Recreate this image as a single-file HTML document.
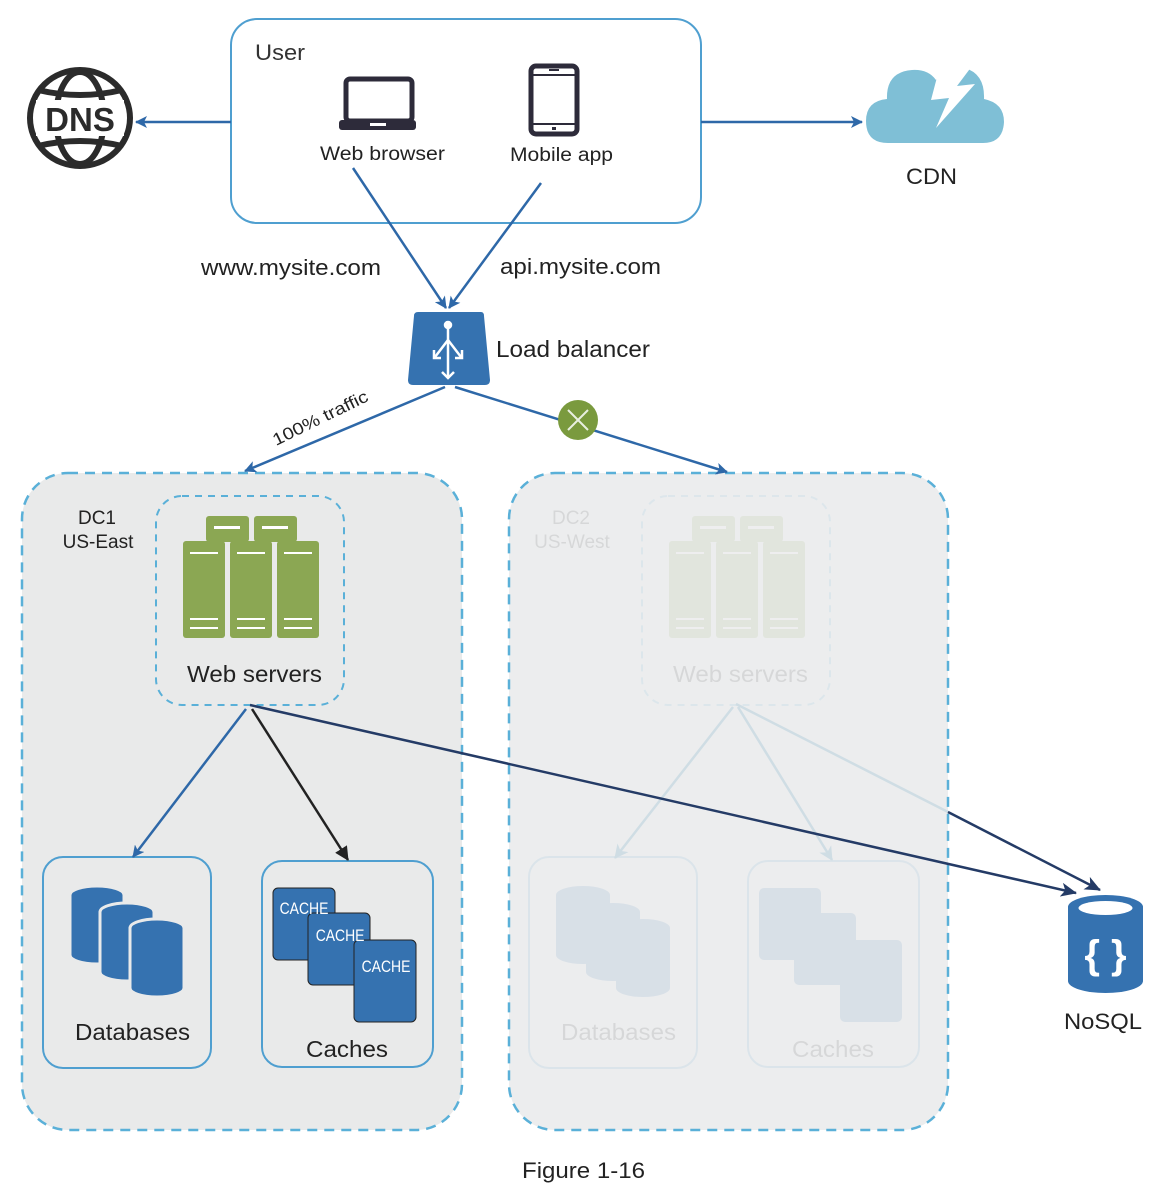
<!DOCTYPE html>
<html><head><meta charset="utf-8"><style>
html,body{margin:0;padding:0;background:#fff;}
svg{display:block;font-family:"Liberation Sans",Arial,sans-serif;}
</style></head><body>
<svg width="1168" height="1186" viewBox="0 0 1168 1186" xmlns="http://www.w3.org/2000/svg">
<defs>
<marker id="ab" markerWidth="12" markerHeight="12" refX="11" refY="6" orient="auto" markerUnits="userSpaceOnUse"><path d="M0,0 L12,6 L0,12 L3,6 z" fill="#2e68a8"/></marker>
<marker id="ak" markerWidth="14" markerHeight="14" refX="13" refY="7" orient="auto" markerUnits="userSpaceOnUse"><path d="M0,0 L14,7 L0,14 z" fill="#222"/></marker>
<marker id="an" markerWidth="16" markerHeight="14" refX="15" refY="7" orient="auto" markerUnits="userSpaceOnUse"><path d="M0,0 L16,7 L0,14 L4,7 z" fill="#243b66"/></marker>
<marker id="af" markerWidth="14" markerHeight="14" refX="13" refY="7" orient="auto" markerUnits="userSpaceOnUse"><path d="M0,0 L14,7 L0,14 L4,7 z" fill="#cfdde4"/></marker>
<g id="ws">
  <rect x="206" y="516" width="43" height="26" rx="3" fill="#8ba753"/>
  <rect x="254" y="516" width="43" height="26" rx="3" fill="#8ba753"/>
  <rect x="214" y="526" width="26" height="3" fill="#fff"/>
  <rect x="262" y="526" width="26" height="3" fill="#fff"/>
  <rect x="183" y="541" width="42" height="97" rx="3" fill="#8ba753"/>
  <rect x="230" y="541" width="42" height="97" rx="3" fill="#8ba753"/>
  <rect x="277" y="541" width="42" height="97" rx="3" fill="#8ba753"/>
  <g fill="#fff"><rect x="190" y="552" width="28" height="2"/><rect x="237" y="552" width="28" height="2"/><rect x="284" y="552" width="28" height="2"/>
  <rect x="190" y="618" width="28" height="2"/><rect x="237" y="618" width="28" height="2"/><rect x="284" y="618" width="28" height="2"/>
  <rect x="190" y="627" width="28" height="2"/><rect x="237" y="627" width="28" height="2"/><rect x="284" y="627" width="28" height="2"/></g>
</g>
</defs>

<!-- User box -->
<rect x="231" y="19" width="470" height="204" rx="26" fill="#fff" stroke="#4f9fd0" stroke-width="2"/>
<text x="255" y="60" font-size="22" fill="#333" textLength="50" lengthAdjust="spacingAndGlyphs">User</text>
<!-- laptop -->
<rect x="346" y="79" width="66" height="42" rx="4" fill="none" stroke="#2d2b3a" stroke-width="5"/>
<rect x="339" y="120" width="77" height="10" rx="3" fill="#2d2b3a"/>
<rect x="370" y="123" width="16" height="3" fill="#fff"/>
<text x="320" y="160" font-size="19" fill="#222" textLength="125" lengthAdjust="spacingAndGlyphs">Web browser</text>
<!-- phone -->
<rect x="531" y="66" width="46" height="68" rx="5" fill="none" stroke="#2d2b3a" stroke-width="5"/>
<line x1="531" y1="75" x2="577" y2="75" stroke="#2d2b3a" stroke-width="2"/>
<line x1="531" y1="124" x2="577" y2="124" stroke="#2d2b3a" stroke-width="2"/>
<rect x="549" y="69" width="10" height="2" fill="#2d2b3a"/>
<rect x="552" y="127" width="4" height="3" fill="#2d2b3a"/>
<text x="510" y="161" font-size="19" fill="#222" textLength="103" lengthAdjust="spacingAndGlyphs">Mobile app</text>

<!-- DNS -->
<g fill="none" stroke="#2b2b2b" stroke-width="6">
<ellipse cx="80" cy="118" rx="50" ry="48"/>
<ellipse cx="80" cy="118" rx="24" ry="46"/>
<path d="M38,90 Q80,100 122,90 M38,146 Q80,136 122,146"/>
</g>
<rect x="36" y="100" width="88" height="36" fill="#fff"/>
<text x="80" y="131" font-size="33" font-weight="bold" fill="#2b2b2b" text-anchor="middle">DNS</text>
<line x1="231" y1="122" x2="136" y2="122" stroke="#2e68a8" stroke-width="2.5" marker-end="url(#ab)"/>

<!-- CDN -->
<path d="M888,143 Q866,143 866,121 Q866,101 887,99 Q886,72 912,70 Q928,69 936,80 Q946,64 965,68 Q985,74 984,99 Q1004,103 1004,122 Q1003,143 983,143 Z" fill="#7fbfd6"/>
<path d="M941,62 L931,100 L949,98 L936,128 L975,84 L957,86 L975,62 Z" fill="#fff"/>
<text x="906" y="184" font-size="22" fill="#222" textLength="51" lengthAdjust="spacingAndGlyphs">CDN</text>
<line x1="701" y1="122" x2="862" y2="122" stroke="#2e68a8" stroke-width="2.5" marker-end="url(#ab)"/>

<!-- lines to LB -->
<line x1="353" y1="168" x2="446" y2="308" stroke="#2e68a8" stroke-width="2.5" marker-end="url(#ab)"/>
<line x1="541" y1="183" x2="449" y2="308" stroke="#2e68a8" stroke-width="2.5" marker-end="url(#ab)"/>
<text x="201" y="275" font-size="22" fill="#222" textLength="180" lengthAdjust="spacingAndGlyphs">www.mysite.com</text>
<text x="500" y="274" font-size="22" fill="#222" textLength="161" lengthAdjust="spacingAndGlyphs">api.mysite.com</text>

<!-- LB -->
<path d="M418,312 L481,312 Q484,312 484,316 L490,380 Q490,385 485,385 L413,385 Q408,385 408,380 L414,316 Q414,312 418,312 Z" fill="#3572b0"/>
<g stroke="#fff" stroke-width="2.5" fill="none">
<circle cx="448" cy="325" r="3" fill="#fff"/>
<line x1="448" y1="328" x2="448" y2="378"/>
<path d="M448,340 L435,357 M448,340 L461,357"/>
<path d="M442,372 L448,378 L454,372 M434,350 L434,358 L441,358 M462,350 L462,358 L455,358"/>
</g>
<text x="496" y="357" font-size="23" fill="#222" textLength="154" lengthAdjust="spacingAndGlyphs">Load balancer</text>

<!-- DC containers -->
<rect x="22" y="473" width="440" height="657" rx="46" fill="#e9eaea" stroke="#5ab0d8" stroke-width="2.5" stroke-dasharray="10,7"/>
<rect x="509" y="473" width="439" height="657" rx="46" fill="#ecedee" stroke="#5ab0d8" stroke-width="2.5" stroke-dasharray="10,7"/>

<!-- LB to DCs -->
<line x1="445" y1="387" x2="245" y2="471" stroke="#2e68a8" stroke-width="2.5" marker-end="url(#ab)"/>
<text x="0" y="0" font-size="17" fill="#222" transform="translate(276,446) rotate(-26)" textLength="104" lengthAdjust="spacingAndGlyphs">100% traffic</text>
<line x1="455" y1="387" x2="727" y2="472" stroke="#2e68a8" stroke-width="2.5" marker-end="url(#ab)"/>
<circle cx="578" cy="420" r="20" fill="#7a9a3e"/>
<path d="M568,410 L588,430 M588,410 L568,430" stroke="#e8efe0" stroke-width="2"/>

<!-- DC1 content -->
<text x="97" y="524" font-size="19" fill="#222" text-anchor="middle">DC1</text>
<text x="98" y="548" font-size="19" fill="#222" text-anchor="middle">US-East</text>
<rect x="156" y="496" width="188" height="209" rx="26" fill="none" stroke="#5ab0d8" stroke-width="2" stroke-dasharray="7,6"/>
<use href="#ws"/>
<text x="187" y="682" font-size="23" fill="#222" textLength="135" lengthAdjust="spacingAndGlyphs">Web servers</text>

<rect x="43" y="857" width="168" height="211" rx="20" fill="none" stroke="#4f9fd0" stroke-width="2"/>
<g fill="#3572b0" stroke="#e9eaea" stroke-width="3">
<path d="M70,895 a27,9 0 0 1 54,0 v60 a27,9 0 0 1 -54,0 z"/>
<path d="M100,912 a27,9 0 0 1 54,0 v60 a27,9 0 0 1 -54,0 z"/>
<path d="M130,928 a27,9 0 0 1 54,0 v60 a27,9 0 0 1 -54,0 z"/>
</g>
<text x="75" y="1040" font-size="23" fill="#222" textLength="115" lengthAdjust="spacingAndGlyphs">Databases</text>

<rect x="262" y="861" width="171" height="206" rx="20" fill="none" stroke="#4f9fd0" stroke-width="2"/>
<g fill="#3572b0" stroke="#222" stroke-width="1">
<rect x="273" y="888" width="62" height="72" rx="5"/>
<rect x="308" y="913" width="62" height="72" rx="5"/>
<rect x="354" y="940" width="62" height="82" rx="5"/>
</g>
<g font-size="17" fill="#fff" transform="scale(0.82,1)">
<text x="341" y="914">CACHE</text>
<text x="385" y="941">CACHE</text>
<text x="441" y="972">CACHE</text>
</g>
<text x="306" y="1057" font-size="23" fill="#222" textLength="82" lengthAdjust="spacingAndGlyphs">Caches</text>

<!-- DC2 faded content -->
<g opacity="0.1" transform="translate(486,0)">
<text x="85" y="524" font-size="19" fill="#222" text-anchor="middle">DC2</text>
<text x="86" y="548" font-size="19" fill="#222" text-anchor="middle">US-West</text>
<rect x="156" y="496" width="188" height="209" rx="26" fill="none" stroke="#5ab0d8" stroke-width="2" stroke-dasharray="7,6"/>
<use href="#ws"/>
<text x="187" y="682" font-size="23" fill="#222" textLength="135" lengthAdjust="spacingAndGlyphs">Web servers</text>
<rect x="43" y="857" width="168" height="211" rx="20" fill="none" stroke="#4f9fd0" stroke-width="2"/>
<g fill="#3572b0">
<path d="M70,895 a27,9 0 0 1 54,0 v60 a27,9 0 0 1 -54,0 z"/>
<path d="M100,912 a27,9 0 0 1 54,0 v60 a27,9 0 0 1 -54,0 z"/>
<path d="M130,928 a27,9 0 0 1 54,0 v60 a27,9 0 0 1 -54,0 z"/>
</g>
<text x="75" y="1040" font-size="23" fill="#222" textLength="115" lengthAdjust="spacingAndGlyphs">Databases</text>
<rect x="262" y="861" width="171" height="206" rx="20" fill="none" stroke="#4f9fd0" stroke-width="2"/>
<g fill="#3572b0">
<rect x="273" y="888" width="62" height="72" rx="5"/>
<rect x="308" y="913" width="62" height="72" rx="5"/>
<rect x="354" y="940" width="62" height="82" rx="5"/>
</g>
<text x="306" y="1057" font-size="23" fill="#222" textLength="82" lengthAdjust="spacingAndGlyphs">Caches</text>
</g>
<line x1="733" y1="707" x2="615" y2="858" stroke="#cfdde4" stroke-width="2.5" marker-end="url(#af)"/>
<line x1="738" y1="707" x2="832" y2="860" stroke="#cfdde4" stroke-width="2.5" marker-end="url(#af)"/>
<line x1="736" y1="704" x2="948" y2="812" stroke="#cfdde4" stroke-width="2.5"/>
<line x1="948" y1="812" x2="1100" y2="890" stroke="#243b66" stroke-width="2.5" marker-end="url(#an)"/>

<!-- DC1 arrows -->
<line x1="246" y1="709" x2="133" y2="857" stroke="#2e68a8" stroke-width="2.5" marker-end="url(#ab)"/>
<line x1="252" y1="709" x2="348" y2="860" stroke="#222" stroke-width="2.5" marker-end="url(#ak)"/>
<line x1="250" y1="705" x2="1076" y2="893" stroke="#243b66" stroke-width="2.5" marker-end="url(#an)"/>

<!-- NoSQL -->
<path d="M1068,907 a37.5,12 0 0 1 75,0 v74 a37.5,12 0 0 1 -75,0 z" fill="#3572b0"/>
<ellipse cx="1105.5" cy="908" rx="27" ry="7" fill="#fff"/>
<text x="1105.5" y="968" font-size="40" font-weight="bold" fill="#fff" text-anchor="middle">{ }</text>
<text x="1064" y="1029" font-size="22" fill="#222" textLength="78" lengthAdjust="spacingAndGlyphs">NoSQL</text>

<text x="522" y="1178" font-size="22" fill="#222" textLength="123" lengthAdjust="spacingAndGlyphs">Figure 1-16</text>
</svg>
</body></html>
